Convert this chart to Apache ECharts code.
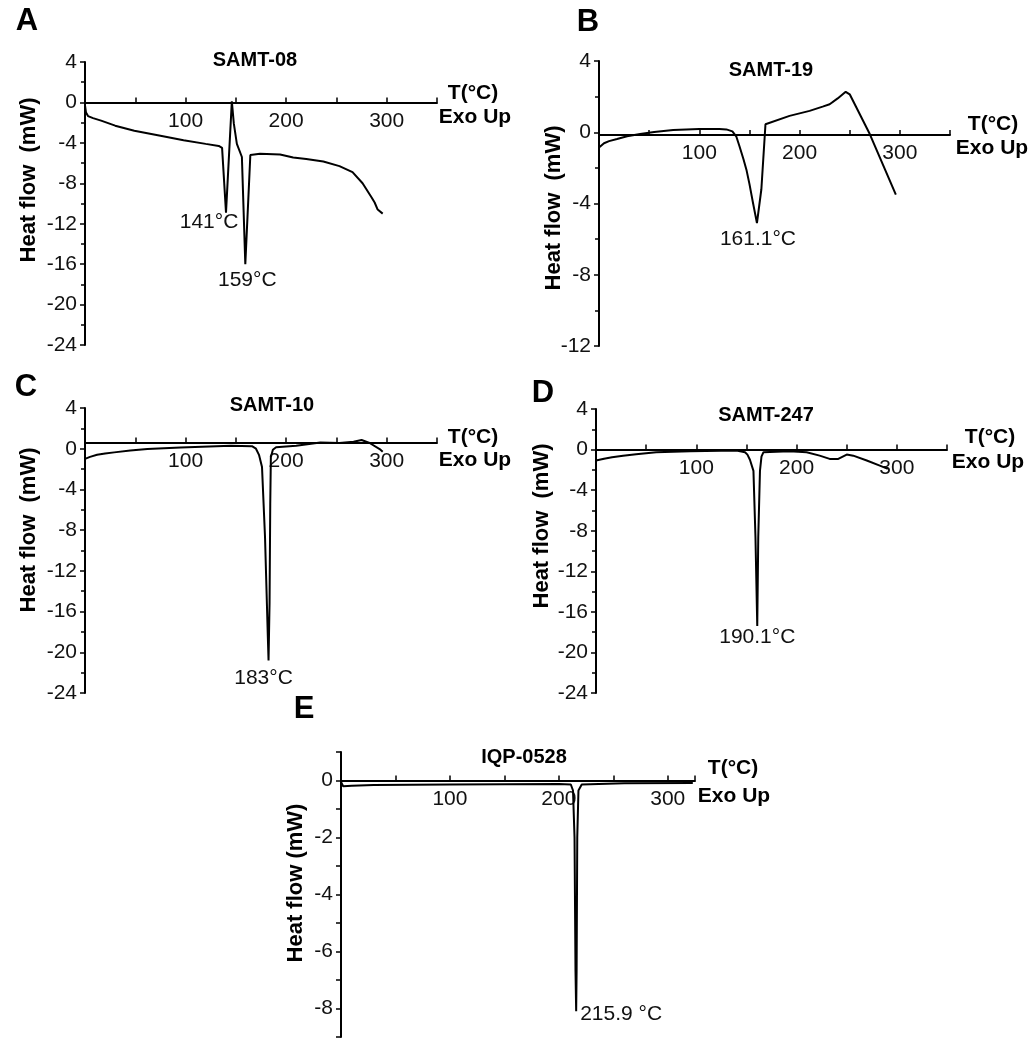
<!DOCTYPE html>
<html>
<head>
<meta charset="utf-8">
<script src="https://cdn.jsdelivr.net/npm/echarts@6/dist/echarts.min.js"></script>
<style>
html,body{margin:0;padding:0;background:#fff;}
#chart{width:1033px;height:1050px;}
</style>
</head>
<body>
<div id="chart"></div>
<script>
// ---------- data ----------
const panelLetters = ['A', 'B', 'C', 'D', 'E'];
const panelTitles = ['SAMT-08', 'SAMT-19', 'SAMT-10', 'SAMT-247', 'IQP-0528'];
const yAxisTitle = 'Heat flow  (mW)';
const xAxisTitle1 = 'T(°C)';
const xAxisTitle2 = 'Exo Up';

// Panel A: SAMT-08
const tempA = [0, 1, 3, 8, 16, 30, 49, 75, 98, 120, 133, 136.3, 140.2, 146, 148, 151, 156, 159.4, 164.4, 174, 194, 207, 220, 237, 253, 266, 276, 285, 288, 291, 296];
const flowA = [-0.3, -1.0, -1.35, -1.55, -1.8, -2.3, -2.8, -3.3, -3.75, -4.1, -4.3, -4.5, -10.9, 0.1, -2.1, -4.1, -5.4, -16.0, -5.2, -5.08, -5.15, -5.45, -5.6, -5.85, -6.3, -6.9, -8.0, -9.4, -9.9, -10.6, -11.0];
// Panel B: SAMT-19
const tempB = [0, 5, 10, 18, 28, 41, 55, 74, 100, 120, 127, 133, 137, 140, 144, 147, 150, 153, 157.5, 161.9, 166, 190, 210, 223, 230, 238, 246, 250, 270, 296];
const flowB = [-0.86, -0.62, -0.5, -0.38, -0.22, -0.1, 0.02, 0.12, 0.18, 0.18, 0.16, 0.05, -0.25, -0.77, -1.5, -2.1, -2.9, -3.8, -5.1, -3.2, 0.45, 0.92, 1.2, 1.44, 1.57, 1.9, 2.27, 2.13, -0.1, -3.5];
// Panel C: SAMT-10
const tempC = [0, 5, 12, 20, 29, 45, 62, 95, 145, 166, 170, 173, 176, 179, 181.8, 182.5, 183.5, 184.2, 184.8, 186.8, 190, 210, 234, 253, 267, 275, 283, 293, 296];
const flowC = [-1.0, -0.8, -0.6, -0.48, -0.36, -0.18, -0.03, 0.13, 0.3, 0.25, 0.0, -0.6, -1.8, -8.7, -18.5, -20.8, -15.2, -5.4, -0.85, -0.1, 0.15, 0.3, 0.62, 0.56, 0.69, 0.85, 0.56, -0.03, -0.3];
// Panel D: SAMT-247
const tempD = [0, 8, 16, 27, 40, 60, 94, 140, 148.6, 151, 153.5, 157, 159, 160.8, 161.8, 163.5, 165, 167, 193, 210, 223, 233, 241.6, 250, 256.5, 270, 283, 291];
const flowD = [-1.08, -0.9, -0.76, -0.6, -0.45, -0.26, -0.16, -0.1, -0.26, -0.5, -1.0, -2.1, -8.6, -17.4, -8.6, -2.1, -0.7, -0.26, -0.16, -0.26, -0.6, -0.92, -0.92, -0.49, -0.6, -1.08, -1.58, -1.9];
// Panel E: IQP-0528
const tempE = [0, 2, 10, 30, 100, 200, 211, 213, 214.4, 215.3, 215.9, 216.3, 216.9, 218, 221, 260, 323];
const flowE = [-0.05, -0.2, -0.18, -0.16, -0.14, -0.12, -0.14, -0.35, -2.0, -6.7, -8.1, -6.7, -2.0, -0.35, -0.14, -0.1, -0.09];

// Peak annotations
const peakPanel = [0, 0, 1, 2, 3, 4];
const peakTemp = [140.2, 159.4, 157.5, 182.5, 160.8, 215.9];
const peakFlow = [-10.9, -16.0, -5.1, -20.8, -17.4, -8.1];
const peakText = ['141°C', '159°C', '161.1°C', '183°C', '190.1°C', '215.9 °C'];

// Axis ranges
const xMax = [350, 350, 350, 350, 325];
const yMin = [-24, -12, -24, -24, -9];
const yMax = [4, 4, 4, 4, 1];
const yInterval = [4, 4, 4, 4, 1];
// heat-flow level where the temperature axis crosses
const xAxisLevel = [0, -0.15, 0.6, 0, 0];

// ---------- layout ----------
const FONT = "'Liberation Sans', Arial, Helvetica, sans-serif";
const grids = [
  {left: 85, top: 62, width: 352, height: 283},
  {left: 599, top: 61, width: 351, height: 285},
  {left: 85, top: 408, width: 352, height: 285},
  {left: 596, top: 409, width: 351, height: 284},
  {left: 341, top: 752, width: 354, height: 285}
];
const letterPos = [[27, 21], [588, 22], [26, 387], [543, 393], [304, 709]];
const titlePos = [[255, 60], [771, 70], [272, 405], [766, 415], [524, 757]];
const tPos = [[473, 93], [993, 124], [473, 437], [990, 437], [733, 768]];
const exoPos = [[475, 117], [992, 148], [475, 460], [988, 462], [734, 796]];
const yNamePos = [[29, 180], [554, 208], [29, 530], [542, 526], [296, 883]];
const peakOffset = [[-17, 10], [2, 16], [1, 16], [-5, 18], [0, 11], [45, 3]];

const temps = [tempA, tempB, tempC, tempD, tempE];
const flows = [flowA, flowB, flowC, flowD, flowE];

const xAxes = [], yAxes = [], series = [], graphics = [];

for (let i = 0; i < 5; i++) {
  const isE = i === 4;
  // move the temperature axis up from the grid bottom to its crossing level
  const off = -grids[i].height * (xAxisLevel[i] - yMin[i]) / (yMax[i] - yMin[i]);
  xAxes.push({
    type: 'value', gridIndex: i, min: 0, max: xMax[i], interval: 50,
    position: 'bottom', offset: off,
    axisLine: {onZero: false, lineStyle: {color: '#000', width: 2}},
    axisTick: {inside: true, length: 5, lineStyle: {color: '#000', width: 1.5}},
    axisLabel: {
      fontSize: 21, color: '#111', fontFamily: FONT, margin: 8,
      formatter: v => (v > 0 && v % 100 === 0) ? String(v) : ''
    },
    splitLine: {show: false}
  });
  yAxes.push({
    type: 'value', gridIndex: i, min: yMin[i], max: yMax[i], interval: yInterval[i],
    axisLine: {show: true, onZero: false, lineStyle: {color: '#000', width: 2}},
    axisTick: {show: true, length: 5, lineStyle: {color: '#000', width: 1.5}},
    minorTick: {show: !isE, splitNumber: 2, length: 4, lineStyle: {color: '#000', width: 1.5}},
    axisLabel: {
      fontSize: 21, color: '#111', fontFamily: FONT, margin: 8,
      formatter: v => isE ? (v % 2 === 0 && v <= 0 ? String(v) : '') : String(v)
    },
    splitLine: {show: false}
  });

  const pts = temps[i].map((t, k) => [t, flows[i][k]]);
  const marks = [];
  for (let p = 0; p < peakPanel.length; p++) {
    if (peakPanel[p] !== i) continue;
    marks.push({
      coord: [peakTemp[p], peakFlow[p]],
      label: {show: true, position: 'inside', offset: peakOffset[p], formatter: peakText[p],
        fontSize: 21, color: '#111', fontFamily: FONT}
    });
  }
  series.push({
    type: 'line', xAxisIndex: i, yAxisIndex: i, data: pts,
    showSymbol: false, symbol: 'none', smooth: false,
    lineStyle: {color: '#000', width: 2},
    markPoint: {symbol: 'circle', symbolSize: 1, itemStyle: {color: 'rgba(0,0,0,0)'}, data: marks, animation: false},
    silent: true
  });

  graphics.push({type: 'text', x: letterPos[i][0], y: letterPos[i][1],
    style: {text: panelLetters[i], font: 'bold 31px ' + FONT, fill: '#000', textAlign: 'center', textVerticalAlign: 'middle'}});
  graphics.push({type: 'text', x: titlePos[i][0], y: titlePos[i][1],
    style: {text: panelTitles[i], font: 'bold 20px ' + FONT, fill: '#000', textAlign: 'center', textVerticalAlign: 'middle'}});
  graphics.push({type: 'text', x: tPos[i][0], y: tPos[i][1],
    style: {text: xAxisTitle1, font: 'bold 21px ' + FONT, fill: '#000', textAlign: 'center', textVerticalAlign: 'middle'}});
  graphics.push({type: 'text', x: exoPos[i][0], y: exoPos[i][1],
    style: {text: xAxisTitle2, font: 'bold 21px ' + FONT, fill: '#000', textAlign: 'center', textVerticalAlign: 'middle'}});
  graphics.push({type: 'text', x: yNamePos[i][0], y: yNamePos[i][1], rotation: Math.PI / 2,
    style: {text: isE ? 'Heat flow (mW)' : yAxisTitle, font: 'bold 22px ' + FONT, fill: '#000', textAlign: 'center', textVerticalAlign: 'middle'}});
}

const chart = echarts.init(document.getElementById('chart'), null, {renderer: 'canvas'});
chart.setOption({
  animation: false,
  backgroundColor: '#fff',
  grid: grids,
  xAxis: xAxes,
  yAxis: yAxes,
  series: series,
  graphic: graphics
});
</script>
</body>
</html>
